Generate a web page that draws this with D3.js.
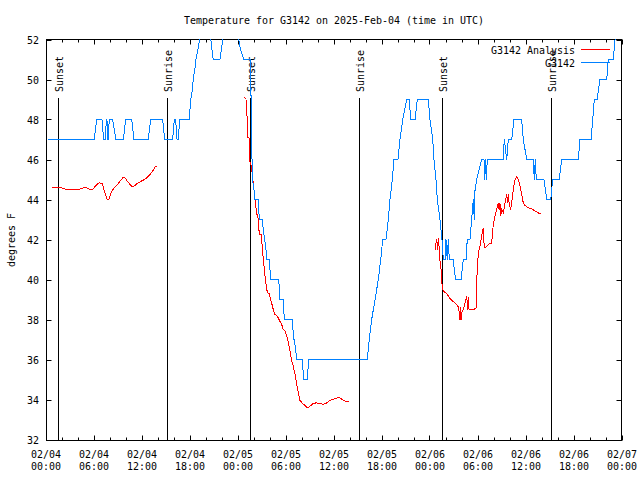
<!DOCTYPE html>
<html><head><meta charset="utf-8">
<script src="https://cdn.jsdelivr.net/npm/d3@7"></script>
<style>body{margin:0;background:#fff}svg{display:block}</style>
</head><body><svg id="c" width="640" height="480"></svg>
<script>
// ---- data (hours since 2025-02-04 00:00 UTC, degrees F) ----
const titleText = "Temperature for G3142 on 2025-Feb-04 (time in UTC)";
const yLabelText = "degrees F";
const seriesNames = ["G3142 Analysis", "G3142"];
const yTicks = [32,34,36,38,40,42,44,46,48,50,52];
const xTickDates = ["02/04","02/04","02/04","02/04","02/05","02/05","02/05","02/05","02/06","02/06","02/06","02/06","02/07"];
const xTickTimes = ["00:00","06:00","12:00","18:00","00:00","06:00","12:00","18:00","00:00","06:00","12:00","18:00","00:00"];
const sunHours = [1.54, 15.17, 25.6, 39.13, 49.55, 63.17];
const sunLabels = ["Sunset","Sunrise","Sunset","Sunrise","Sunset","Sunrise"];

const stationObs = [
[0.29,47],[6.04,47],[6.33,48],[7.0,48],[7.2,47],[7.42,47],[7.54,48],[7.62,48],[7.71,47],[7.8,47],[7.9,48],[8.33,48],[8.75,47],[9.67,47],[9.96,48],[10.71,48],[11.0,47],[12.79,47],[13.08,48],[14.58,48],[14.83,47],[15.83,47],[16.04,48],[16.2,48],[16.38,47],[16.54,47],[16.7,48],[17.88,48],
[18.0,48.5],[18.1,49],[18.3,49.5],[18.4,50],[18.6,50.5],[18.75,51],[19.0,51.5],[19.2,52],[19.4,52.5],[19.6,53],[20.4,53],[20.6,52],[20.9,51],[21.75,51],[22.1,52],[22.3,52.5],[22.6,53],[23.6,53],[24.1,52],[24.3,51.5],[24.75,51],[25.55,51],
[25.6,50],[25.65,48.5],[25.7,47],[25.78,45.5],[25.88,44.8],[26.0,44.5],[26.05,44],[26.54,44],[26.66,43],[27.04,43],[27.16,42.5],[27.34,42],[27.5,41.5],[27.59,41],[27.96,41],[28.04,40],[29.09,40],[29.25,39],[29.66,39],[29.79,38],[30.84,38],[30.91,37],[31.05,37],[31.2,36.5],[31.34,36],[32.09,36],[32.16,35],[32.66,35],[32.84,36],[40.16,36],
[40.41,37],[40.71,38],[41.13,39],[41.54,40],[41.84,41],[42.09,42],[42.5,42],[42.79,43],[43.0,44],[43.29,45],[43.5,46],[44.0,46],[44.25,47],[44.59,48],[45.09,49],[45.41,49],[45.59,48],[46.13,48],[46.41,49],[47.79,49],
[48.0,48],[48.34,47],[48.5,46],[48.75,45],[48.91,44],[49.25,43],[49.5,42],[49.66,41],[49.88,41],[50.0,42],[50.16,41],[50.29,42],[50.41,41],[50.91,41],[51.04,40.5],[51.21,40],[51.88,40],[52.16,41],[52.5,41],[52.66,42],[53.0,42],[53.21,43],[53.41,44],[53.54,43],[53.63,44.5],[53.84,45],[54.13,45.5],[54.46,46],[54.75,46],[54.84,45],[54.91,46],[55.04,45],[55.16,46],[57.13,46],[57.29,47],[57.59,46],[57.79,47],[58.21,47],[58.5,48],[59.46,48],[59.66,47],[60.09,46],[60.91,46],[61.04,45],[61.16,46],[61.29,45],[61.54,45],[62.25,45],[62.59,44],[63.09,44],[63.34,45],[64.16,45],[64.46,46],[66.54,46],[66.75,47],[68.13,47],[68.34,48],[68.54,49],[68.88,49],[69.25,50],[70.09,50],[70.29,51],[70.91,51],[71.13,52],[71.5,53]
];

const analysisDay1 = [
[0.71,44.58],[1.96,44.58],[2.59,44.5],[4.04,44.5],[4.66,44.58],[5.09,44.58],[5.5,44.5],[5.91,44.53],[6.34,44.75],[6.66,44.83],[7.04,44.8],[7.29,44.42],[7.5,44.17],[7.66,44.0],[7.91,44.03],[8.13,44.33],[8.5,44.58],[8.84,44.7],[9.25,44.92],[9.59,45.08],[9.88,45.08],[10.16,44.92],[10.5,44.75],[10.84,44.63],[11.13,44.7],[11.34,44.8],[11.75,44.88],[12.16,44.97],[12.59,45.08],[13.0,45.25],[13.34,45.42],[13.63,45.63],[13.91,45.63]
];
const analysisDay2 = [
[24.79,49.08],[25.0,49.05],[25.02,48.2],[25.2,48.15],[25.21,47.1],[25.45,47.05],[25.46,45.9],[25.6,45.8],[25.72,45.5],[25.91,44.83],[26.13,44.0],[26.34,43.3],[26.54,43.0],[26.66,42.25],[26.91,42.25],[27.04,41.58],[27.16,41.0],[27.38,40.17],[27.59,39.5],[27.71,39.33],[27.91,39.3],[28.04,39.08],[28.25,38.75],[28.41,38.5],[28.63,38.25],[28.91,38.17],[29.16,37.97],[29.46,37.75],[29.66,37.5],[29.91,37.42],[30.09,37.17],[30.29,36.87],[30.5,36.42],[30.71,35.92],[30.91,35.67],[31.13,35.25],[31.34,34.75],[31.54,34.33],[31.75,33.95],[32.09,33.8],[32.38,33.7],[32.71,33.58],[33.0,33.67],[33.41,33.8],[33.75,33.83],[34.25,33.8],[34.66,33.75],[35.09,33.83],[35.5,33.95],[36.0,34.03],[36.41,34.08],[36.75,34.08],[37.16,33.97],[37.59,33.88],[37.91,33.88]
];
const analysisDay3 = [
[48.66,41.47],[48.75,41.83],[48.84,42.03],[48.96,41.5],[49.09,42.08],[49.16,41.33],[49.25,40.92],[49.38,40.5],[49.46,40.0],[49.54,39.58],[49.66,39.42],[50.0,39.33],[50.29,39.17],[50.59,39.0],[51.0,38.87],[51.34,38.75],[51.54,38.63],[51.66,38.33],[51.75,37.97],[51.79,38.6],[51.88,37.97],[51.96,38.33],[52.16,38.5],[52.38,38.83],[52.59,39.17],[52.71,38.5],[52.79,39.1],[52.88,38.5],[53.0,38.5],[53.41,38.5],[53.75,38.55],[53.84,40.0],[54.04,41.33],[54.25,41.67],[54.46,42.17],[54.66,42.58],[54.75,41.83],[54.88,41.58],[55.29,41.75],[55.71,41.83],[55.91,42.75],[56.13,43.17],[56.34,43.5],[56.54,43.83],[56.63,43.5],[56.75,43.8],[56.84,43.17],[56.96,43.5],[57.16,43.33],[57.38,43.83],[57.59,44.25],[57.71,43.83],[57.79,44.25],[57.91,43.75],[58.09,43.5],[58.21,43.83],[58.41,44.5],[58.63,45.0],[58.84,45.13],[59.04,45.0],[59.25,44.67],[59.46,44.25],[59.66,43.83],[59.88,43.7],[60.29,43.58],[60.71,43.53],[61.13,43.42],[61.54,43.33],[61.84,43.28]
];

// ---- rendering ----
const FONT = "'DejaVu Sans Mono','Liberation Mono',monospace";
const RED = "#ff0000", BLUE = "#0080ff";
const t0 = Date.UTC(2025, 1, 4);
const toDate = h => new Date(t0 + h * 3600e3);
const L = 46, R = 622, T = 40, B = 440;
const svg = d3.select("#c");
const x = d3.scaleUtc().domain([toDate(0), toDate(72)]).range([L, R]);
const y = d3.scaleLinear().domain([32, 52]).range([B, T]);
const px = v => Math.floor(v) + 0.5;

function txt(sel, s) {
  return sel.text(s).attr("font-family", FONT).attr("font-size", 11)
    .attr("textLength", s.length * 6).attr("lengthAdjust", "spacingAndGlyphs").attr("fill", "#000");
}

// clip
svg.append("clipPath").attr("id", "plot").append("rect")
  .attr("x", L).attr("y", T - 1).attr("width", R - L).attr("height", B - T + 1);

// ticks
const gx = svg.append("g");
const majorX = d3.utcHour.every(6).range(toDate(0), toDate(72.01));
const minorX = d3.utcHour.every(2).range(toDate(0), toDate(72.01));
minorX.forEach(d => {
  const xx = px(x(d)), major = (+d - t0) % (6 * 3600e3) === 0, len = major ? 5 : 3;
  gx.append("line").attr("x1", xx).attr("x2", xx).attr("y1", px(B)).attr("y2", px(B) - len).attr("stroke", "#000");
  gx.append("line").attr("x1", xx).attr("x2", xx).attr("y1", px(T - 1)).attr("y2", px(T - 1) + len).attr("stroke", "#000");
});
majorX.forEach((d, i) => {
  const xx = x(d);
  txt(gx.append("text").attr("x", xx).attr("y", 458).attr("text-anchor", "middle"), xTickDates[i]);
  txt(gx.append("text").attr("x", xx).attr("y", 470).attr("text-anchor", "middle"), xTickTimes[i]);
});
const gy = svg.append("g");
yTicks.forEach(v => {
  const yy = px(y(v));
  gy.append("line").attr("x1", px(L)).attr("x2", px(L) + 5).attr("y1", yy).attr("y2", yy).attr("stroke", "#000");
  gy.append("line").attr("x1", px(R - 1)).attr("x2", px(R - 1) - 5).attr("y1", yy).attr("y2", yy).attr("stroke", "#000");
  txt(gy.append("text").attr("x", 39).attr("y", y(v) + 4).attr("text-anchor", "end"), String(v));
});

// frame
svg.append("rect").attr("x", px(L)).attr("y", px(T - 1)).attr("width", px(R - 1) - px(L)).attr("height", px(B) - px(T - 1))
  .attr("fill", "none").attr("stroke", "#000");

// sun lines
sunHours.forEach((h, i) => {
  const xx = px(x(toDate(h)));
  svg.append("line").attr("x1", xx).attr("x2", xx).attr("y1", 98).attr("y2", B).attr("stroke", "#000");
  txt(svg.append("text").attr("transform", `translate(${xx + 4.5},92) rotate(-90)`).attr("text-anchor", "start"), sunLabels[i]);
});

// data
const line = d3.line().x(d => x(toDate(d[0]))).y(d => y(d[1]) - 0.5);
const gd = svg.append("g").attr("clip-path", "url(#plot)");
[analysisDay1, analysisDay2, analysisDay3].forEach(seg => {
  gd.append("path").attr("d", line(seg)).attr("fill", "none").attr("stroke", RED)
    .attr("stroke-width", 1).attr("shape-rendering", "crispEdges");
});
gd.append("path").attr("d", line(stationObs)).attr("fill", "none").attr("stroke", BLUE)
  .attr("stroke-width", 1).attr("shape-rendering", "crispEdges");

// legend
const legend = svg.append("g");
[RED, BLUE].forEach((c, i) => {
  txt(legend.append("text").attr("x", 575).attr("y", 54 + i * 13).attr("text-anchor", "end"), seriesNames[i]);
  legend.append("line").attr("x1", 581).attr("x2", 610).attr("y1", 49.5 + i * 13).attr("y2", 49.5 + i * 13).attr("stroke", c);
});

// title and y label
txt(svg.append("text").attr("x", (L + R) / 2).attr("y", 24).attr("text-anchor", "middle"), titleText);
txt(svg.append("text").attr("transform", "translate(15,240) rotate(-90)").attr("text-anchor", "middle"), yLabelText);
</script>
</body></html>
